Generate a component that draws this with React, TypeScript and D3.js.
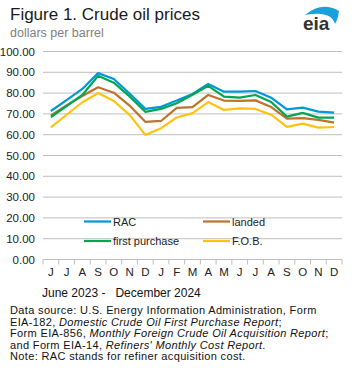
import React from "react";
import * as d3 from "d3";

const months = ["J","J","A","S","O","N","D","J","F","M","A","M","J","J","A","S","O","N","D"];
const rac = [71.4,76.6,82.0,89.6,86.8,79.8,72.4,73.4,76.4,79.6,84.4,80.7,80.7,81.0,77.8,72.2,73.0,71.1,70.6];
const firstPurchase = [68.5,73.8,79.1,88.3,85.0,78.4,71.0,72.4,75.1,79.2,83.5,78.3,77.8,79.1,75.7,68.7,70.5,68.2,68.2];
const landed = [69.3,74.1,78.6,82.8,80.2,74.0,66.2,66.6,72.9,73.3,79.1,76.4,76.3,76.5,73.3,67.7,68.0,67.1,65.8];
const fob = [63.5,69.6,75.6,80.0,76.2,69.5,59.9,63.1,68.3,70.4,75.7,71.9,72.7,72.4,69.6,63.8,65.3,63.4,63.7];
const yTicks = [0,10,20,30,40,50,60,70,80,90,100];

const series = [
  { name: "RAC", values: rac, color: "#0096D7" },
  { name: "landed", values: landed, color: "#BD732A" },
  { name: "first purchase", values: firstPurchase, color: "#00A651" },
  { name: "F.O.B.", values: fob, color: "#FFC20E" },
];

const sourceLines: React.ReactNode[] = [
  <>Data source: U.S. Energy Information Administration, Form</>,
  <>EIA-182, <tspan fontStyle="italic">Domestic Crude Oil First Purchase Report</tspan>;</>,
  <>Form EIA-856, <tspan fontStyle="italic">Monthly Foreign Crude Oil Acquisition Report</tspan>;</>,
  <>and Form EIA-14, <tspan fontStyle="italic">Refiners' Monthly Cost Report</tspan>.</>,
  <>Note: RAC stands for refiner acquisition cost.</>,
];

export default function App() {
  const W = 355, H = 379;
  const x0 = 43, x1 = 342, yTop = 51.5, yBot = 259.5;
  const x = d3.scaleBand<number>().domain(months.map((_, i) => i)).range([x0, x1]);
  const y = d3.scaleLinear().domain([0, 100]).range([yBot, yTop]);
  const line = d3.line<number>().x((_, i) => (x(i) ?? 0) + x.bandwidth() / 2).y(d => y(d));
  const font = "Liberation Sans, Arial, sans-serif";
  const legend = [
    { s: series[0], lx: 84, ly: 221.5 },
    { s: series[1], lx: 203, ly: 221.5 },
    { s: series[2], lx: 84, ly: 241 },
    { s: series[3], lx: 203, ly: 241 },
  ];
  return (
    <svg width={W} height={H} style={{ position: "absolute", left: 0, top: 0, background: "#fff" }} fontFamily={font}>
      <text x={10} y={20} fontSize={17} fill="#1a1a1a">Figure 1. Crude oil prices</text>
      <text x={10} y={37} fontSize={12.5} fill="#7f7f7f">dollars per barrel</text>
      {/* eia logo */}
      <path d="M305,15 Q322,1 339,11 Q338,19 335,24 Q331,10 305,15 Z" fill="#1AA0DB" />
      <text x={303} y={29.5} fontSize={19} fontWeight="bold" fill="#333">eia</text>
      {yTicks.map(t => (
        <g key={t}>
          <line x1={x0} x2={x1} y1={y(t)} y2={y(t)} stroke="#bfbfbf" strokeWidth={1} />
          <text x={35} y={y(t) + 4} fontSize={11.5} textAnchor="end" fill="#222">{t.toFixed(2)}</text>
        </g>
      ))}
      {months.map((_, i) => (
        <line key={"t" + i} x1={x(i)!} x2={x(i)!} y1={yBot} y2={yBot + 5} stroke="#bfbfbf" />
      ))}
      <line x1={x1} x2={x1} y1={yBot} y2={yBot + 5} stroke="#bfbfbf" />
      {months.map((m, i) => (
        <text key={"m" + i} x={(x(i) ?? 0) + x.bandwidth() / 2} y={276} fontSize={11.5} textAnchor="middle" fill="#222">{m}</text>
      ))}
      {series.map(s => (
        <path key={s.name} d={line(s.values) ?? ""} fill="none" stroke={s.color} strokeWidth={2.2} strokeLinejoin="round" />
      ))}
      {legend.map(({ s, lx, ly }) => (
        <g key={"l" + s.name}>
          <line x1={lx} x2={lx + 27} y1={ly} y2={ly} stroke={s.color} strokeWidth={2.2} />
          <text x={lx + 29} y={ly + 4} fontSize={11} fill="#222">{s.name}</text>
        </g>
      ))}
      <text x={42} y={297} fontSize={12} fill="#111" xmlSpace="preserve">June 2023 -   December 2024</text>
      {sourceLines.map((l, i) => (
        <text key={"s" + i} x={10} y={314 + i * 11.6} fontSize={11} fill="#111" letterSpacing={0.35}>{l}</text>
      ))}
    </svg>
  );
}
